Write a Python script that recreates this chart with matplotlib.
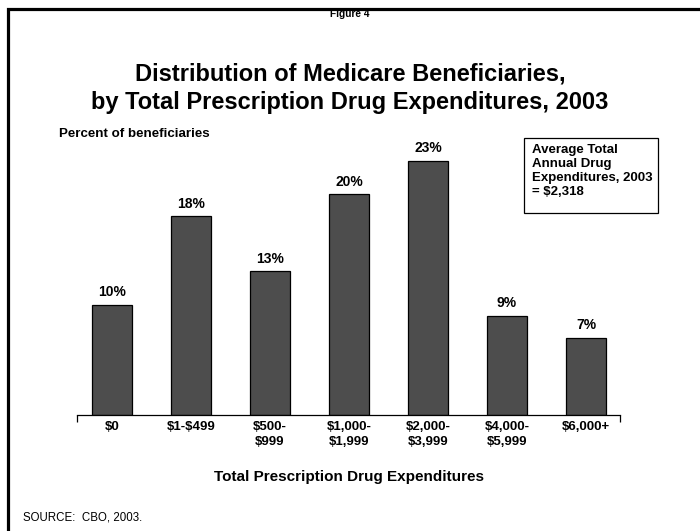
import matplotlib
matplotlib.use("Agg")
import matplotlib.pyplot as plt
from matplotlib.patches import Rectangle

categories = [r"\$0", r"\$1-\$499", "\\$500-\n\\$999", "\\$1,000-\n\\$1,999", "\\$2,000-\n\\$3,999",
              "\\$4,000-\n\\$5,999", r"\$6,000+"]
values = [10, 18, 13, 20, 23, 9, 7]
value_labels = ["10%", "18%", "13%", "20%", "23%", "9%", "7%"]

plt.rcParams['font.family'] = ['Liberation Sans', 'DejaVu Sans']

W, H = 700, 531
fig = plt.figure(figsize=(W / 100, H / 100), dpi=100)
fig.patch.set_facecolor('white')

def fx(px):
    return px / W

def fy(py):
    return 1 - py / H

# outer frame (only left and top visible)
fig.patches.append(Rectangle((fx(8), -0.2), 1.2, fy(9) + 0.2, transform=fig.transFigure,
                             fill=False, edgecolor='black', linewidth=2.3))

ax = fig.add_axes([fx(77), fy(415), (620 - 77) / W, 276.25 / H])
x = list(range(len(categories)))
ax.bar(x, values, width=0.506, color='#4d4d4d', edgecolor='black', linewidth=0.9, zorder=2)
ax.set_xlim(-0.443, 6.43)
ax.set_ylim(0, 25)
for s in ['top', 'right', 'left']:
    ax.spines[s].set_visible(False)
ax.spines['bottom'].set_linewidth(0.9)
ax.set_yticks([])
ax.set_xticks(x)
ax.set_xticklabels(categories, fontsize=9.5, fontweight='bold', linespacing=1.35)
ax.tick_params(axis='x', length=0, pad=4)
ax.set_xticks([-0.443, 6.43], minor=True)
ax.tick_params(axis='x', which='minor', length=5, width=0.9, direction='out')

for xi, v, lab in zip(x, values, value_labels):
    ax.annotate(lab, (xi, v), xytext=(0, 9), textcoords='offset points',
                ha='center', va='center', fontsize=10, fontweight='bold')

fig.text(0.5, fy(14), "Figure 4", ha='center', va='center', fontsize=7.3, fontweight='bold')
fig.text(0.5, fy(88), "Distribution of Medicare Beneficiaries,\nby Total Prescription Drug Expenditures, 2003",
         ha='center', va='center', fontsize=17, fontweight='bold', linespacing=1.33)
fig.text(fx(59), fy(134), "Percent of beneficiaries", ha='left', va='center', fontsize=9.6, fontweight='bold')

fig.patches.append(Rectangle((fx(524), fy(213)), (658 - 524) / W, (213 - 138) / H,
                             transform=fig.transFigure, fill=True, facecolor='white',
                             edgecolor='black', linewidth=0.9))
fig.text(fx(532), fy(171), "Average Total\nAnnual Drug\nExpenditures, 2003\n= \\$2,318",
         ha='left', va='center', fontsize=9.5, fontweight='bold', linespacing=1.22)

fig.text(fx(349), fy(477), "Total Prescription Drug Expenditures", ha='center', va='center',
         fontsize=11, fontweight='bold')
fig.text(fx(23), fy(518), "SOURCE:  CBO, 2003.", ha='left', va='center', fontsize=8.3)

fig.savefig("out.png", dpi=100)
